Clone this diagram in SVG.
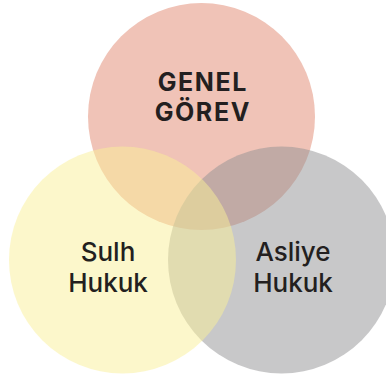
<svg xmlns="http://www.w3.org/2000/svg" width="386" height="375" viewBox="0 0 386 375">
<style>
.lbl{font-family:Inter,"Liberation Sans",Arial,sans-serif;fill:#231F20;text-anchor:middle;font-size:26px;font-weight:500}
.bold{font-size:25px;font-weight:700;letter-spacing:1.6px}
</style>
<rect width="386" height="375" fill="#FFFFFF"/>
<g id="genel-gorev">
<circle cx="201.5" cy="116.5" r="113.5" fill="#F0C3B7"/>
</g>
<g id="asliye-hukuk">
<circle cx="281.5" cy="260" r="113.5" fill="#919294" fill-opacity="0.5"/>
</g>
<g id="sulh-hukuk">
<circle cx="122.5" cy="260" r="113.5" fill="#F9EF97" fill-opacity="0.5"/>
</g>
<g id="labels">
<text class="lbl bold" x="202.8" y="91">GENEL</text>
<text class="lbl bold" x="202.8" y="121">GÖREV</text>
<text class="lbl" x="108" y="261">Sulh</text>
<text class="lbl" x="108" y="292">Hukuk</text>
<text class="lbl" x="293" y="261">Asliye</text>
<text class="lbl" x="293" y="292">Hukuk</text>
</g>
<g id="connectors"></g>
</svg>
